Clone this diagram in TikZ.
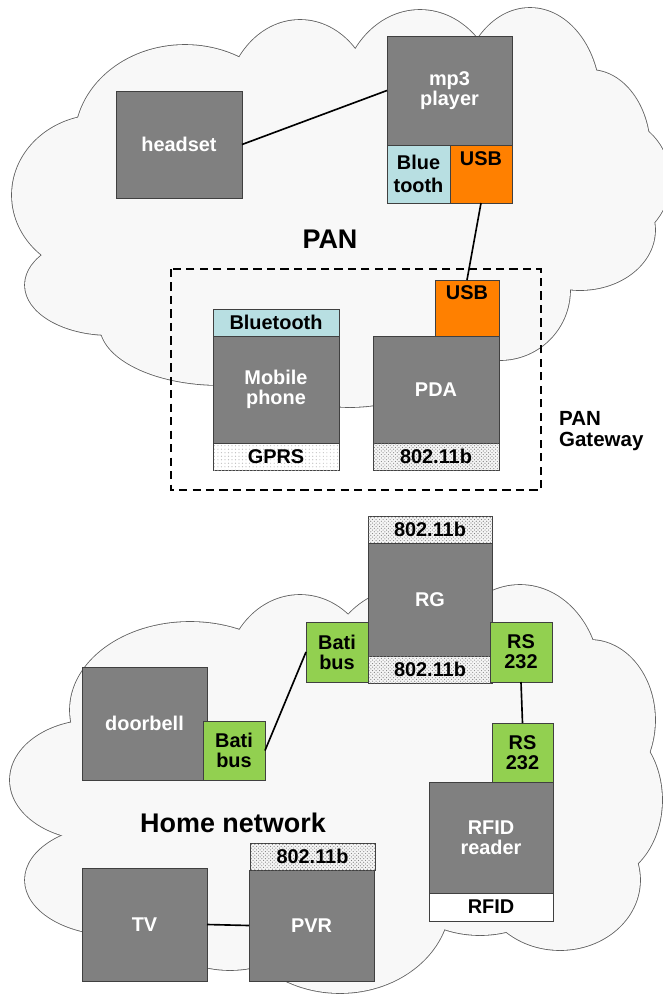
\documentclass[tikz,border=0pt]{standalone}
\usepackage{fontspec}
\setmainfont{Liberation Sans}
\usetikzlibrary{positioning,patterns}

\definecolor{devgray}{RGB}{128,128,128}
\definecolor{btblue}{RGB}{184,223,226}
\definecolor{usborange}{RGB}{255,128,0}
\definecolor{batigreen}{RGB}{146,208,80}
\definecolor{cloudfill}{RGB}{248,248,248}
\definecolor{cloudline}{RGB}{95,95,95}

\tikzset{
  box/.style 2 args={minimum width=#1*0.03cm, minimum height=#2*0.03cm},
  dev/.style={draw=black!75, line width=0.6pt, fill=devgray, text=white,
    font=\bfseries\fontsize{17}{17}\selectfont, align=center,
    inner sep=0pt, outer sep=0pt, anchor=north west},
  port/.style={dev, fill=white, text=black},
  btport/.style={port, fill=btblue},
  usbport/.style={port, fill=usborange, text height=0.43cm, text depth=0.92cm},
  batiport/.style={port, fill=batigreen},
  wifiport/.style={port, fill=gray!8, postaction={pattern=crosshatch dots, pattern color=gray}},
  gprsport/.style={port, postaction={pattern=dots, pattern color=gray!55}},
  link/.style={line width=1.4pt},
  netlabel/.style={font=\bfseries\fontsize{23}{26}\selectfont},
}

\begin{document}
\begin{tikzpicture}[x=0.03cm, y=-0.03cm]
    \useasboundingbox[fill=white] (0,0) rectangle (662,994);

    % Wolke PAN
    \def\pancloud{100/195/88/80, 110/285/85/50, 220/325/120/60, 350/335/110/72,
        500/290/70/70, 580/230/75/60, 612/180/58/62, 185/140/110/95,
        300/110/75/90, 420/105/80/95, 530/100/70/92, 590/150/60/80, 350/210/250/130}
    \foreach \cx/\cy/\rx/\ry in \pancloud
        \draw[cloudline, fill=cloudfill, line width=1.4pt] (\cx,\cy) ellipse [x radius=\rx, y radius=\ry];
    \foreach \cx/\cy/\rx/\ry in \pancloud
        \fill[cloudfill] (\cx,\cy) ellipse [x radius=\rx, y radius=\ry];

    % Wolke Heimnetz
    \def\homecloud{95/780/85/60, 115/880/90/55, 190/710/120/88, 300/680/75/85,
        420/660/90/75, 520/680/80/95, 590/720/65/80, 600/800/62/80,
        560/880/80/70, 480/880/80/55, 340/900/110/93, 230/880/100/90, 330/800/220/120}
    \foreach \cx/\cy/\rx/\ry in \homecloud
        \draw[cloudline, fill=cloudfill, line width=1.4pt] (\cx,\cy) ellipse [x radius=\rx, y radius=\ry];
    \foreach \cx/\cy/\rx/\ry in \homecloud
        \fill[cloudfill] (\cx,\cy) ellipse [x radius=\rx, y radius=\ry];

    % PAN
    \node[dev, box={126}{107}] (headset) at (116,91) {headset};
    \node[dev, box={125}{109}] (mp3) at (387,36) {mp3\\player};
    \node[btport, box={63}{58}] (mp3bt) at (mp3.south west) {Blue\\[2pt]tooth};
    \node[usbport, box={62}{58}] (mp3usb) at (mp3bt.north east) {USB};

    \node[netlabel] (panlabel) at (330,239) {PAN};

    % Gateway
    \draw[line width=1.7pt, dash pattern=on 7pt off 4.5pt] (171,269) rectangle (541,490);
    \node[font=\bfseries\fontsize{17.5}{18}\selectfont, align=left, anchor=west]
        (gwlabel) at (555,431) {PAN\\Gateway};

    \node[btport, box={126}{27}] (phonebt) at (213,309) {Bluetooth};
    \node[dev, box={126}{107}] (phone) at (phonebt.south west) {Mobile\\phone};
    \node[gprsport, box={126}{27}] (gprs) at (phone.south west) {GPRS};

    \node[usbport, box={64}{56}] (pdausb) at (435,280) {USB};
    \node[dev, box={126}{107}] (pda) at (373,336) {PDA};
    \node[wifiport, box={126}{27}] (pdawifi) at (pda.south west) {802.11b};

    % Verbindungen PAN
    \draw[link] (headset.east) -- (mp3.west);
    \draw[link] (mp3usb.south) -- (pdausb.north);

    % Heimnetz
    \node[wifiport, box={124}{27}] (rgwifitop) at (368,516) {802.11b};
    \node[dev, box={124}{113}] (rg) at (rgwifitop.south west) {RG};
    \node[wifiport, box={124}{27}] (rgwifibot) at (rg.south west) {802.11b};
    \node[batiport, box={62}{60}] (rgbati) at (306,622) {Bati\\bus};
    \node[batiport, box={62}{60}] (rgrs) at (490,622) {RS\\232};

    \node[dev, box={125}{113}] (doorbell) at (82,667) {doorbell};
    \node[batiport, box={62}{59}] (doorbati) at (203,721) {Bati\\bus};

    \node[dev, box={124}{111}] (reader) at (429,782) {RFID\\reader};
    \node[batiport, box={61}{59}, anchor=south east] (readerrs) at (reader.north east) {RS\\232};
    \node[port, box={124}{28}] (rfid) at (reader.south west) {RFID};

    \node[netlabel] (homelabel) at (233,823) {Home network};

    \node[dev, box={125}{113}] (tv) at (82,868) {TV};
    \node[dev, box={125}{111}] (pvr) at (249,870) {PVR};
    \node[wifiport, box={125}{27}, anchor=south west] (pvrwifi) at (250,870) {802.11b};

    % Verbindungen Heimnetz
    \draw[link] (doorbati.east) -- (rgbati.west);
    \draw[link] (rgrs.south) -- (readerrs.north);
    \draw[link] (tv.east) -- (pvr.west);
\end{tikzpicture}
\end{document}
